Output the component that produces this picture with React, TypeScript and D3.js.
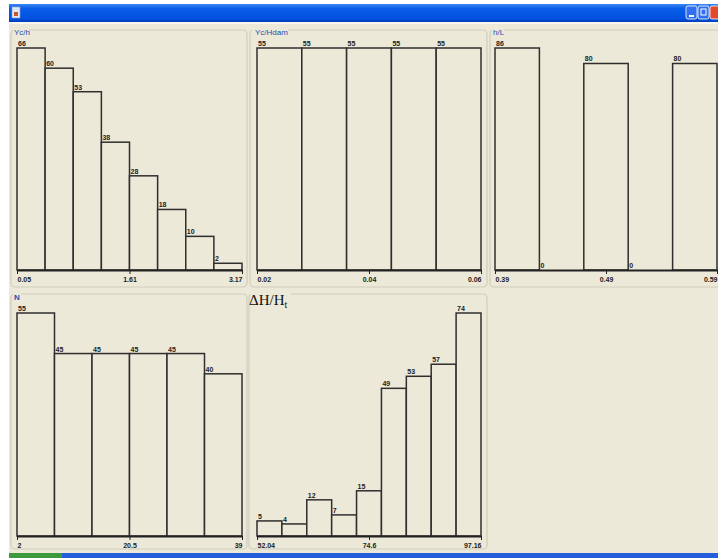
import React, { useEffect, useRef } from 'react';
import * as d3 from 'd3';

const width = 718;
const height = 558;
const bg = '#ECE9D8';
const barStroke = '#2f2f2f';
const titleBlue = '#1f4fb4';

// bin counts per histogram
const ycHCounts = [66, 60, 53, 38, 28, 18, 10, 2];
const ycHdamCounts = [55, 55, 55, 55, 55];
const hLCounts = [86, 0, 80, 0, 80];
const nCounts = [55, 45, 45, 45, 45, 40];
const dHCounts = [5, 4, 12, 7, 15, 49, 53, 57, 74];

// axis tick labels (min, mid, max)
const ycHTicks = [0.05, 1.61, 3.17];
const ycHdamTicks = [0.02, 0.04, 0.06];
const hLTicks = [0.39, 0.49, 0.59];
const nTicks = [2, 20.5, 39];
const dHTicks = [52.04, 74.6, 97.16];

type HistProps = {
  counts: number[];
  ticks: number[];
  x0: number;
  x1: number;
  top: number;
  base: number;
};

function Histogram({ counts, ticks, x0, x1, top, base }: HistProps) {
  const axisRef = useRef<SVGGElement>(null);
  const xIdx = d3.scaleLinear().domain([0, counts.length]).range([x0, x1]);
  const y = d3.scaleLinear().domain([0, d3.max(counts) as number]).range([base, top]);
  const xVal = d3.scaleLinear().domain([ticks[0], ticks[ticks.length - 1]]).range([x0, x1]);

  useEffect(() => {
    const axis = d3.axisBottom(xVal).tickValues(ticks).tickSize(4).tickSizeOuter(0).tickPadding(3)
      .tickFormat(d => String(d));
    const g = d3.select(axisRef.current).call(axis as any);
    g.select('.domain').attr('stroke', '#222').attr('stroke-width', 2);
    g.selectAll('.tick line').attr('stroke', '#222').attr('stroke-width', 1);
    const last = ticks.length - 1;
    g.selectAll('.tick text')
      .attr('fill', '#222')
      .attr('font-size', 7)
      .attr('font-weight', 'bold')
      .attr('font-family', 'Liberation Sans, Arial, sans-serif')
      .attr('text-anchor', (_d, i) => (i === 0 ? 'start' : i === last ? 'end' : 'middle'));
  });

  return (
    <g>
      {counts.map((c, i) => (
        <g key={i}>
          <rect x={xIdx(i)} y={y(c)} width={xIdx(i + 1) - xIdx(i)} height={base - y(c)}
            fill={bg} stroke={barStroke} strokeWidth={1.5} />
          <text x={xIdx(i) + 1} y={y(c) - 2} fontSize={7} fontWeight="bold" fill="#222"
            fontFamily="Liberation Sans, Arial, sans-serif">{c}</text>
        </g>
      ))}
      <g ref={axisRef} transform={`translate(0, ${base})`} />
    </g>
  );
}

function Frame({ x, y, w, h, gap }: { x: number; y: number; w: number; h: number; gap: number }) {
  return (
    <g>
      <rect x={x} y={y} width={w} height={h} rx={4} fill="none" stroke="#D0CDBB" strokeWidth={1.2} />
      <rect x={x + 2} y={y - 3} width={gap} height={6} fill={bg} />
    </g>
  );
}

export default function App() {
  return (
    <svg width={width} height={height} style={{ position: 'absolute', left: 0, top: 0 }}>
      <defs>
        <linearGradient id="tb" x1="0" y1="0" x2="0" y2="1">
          <stop offset="0" stopColor="#3b86f2" />
          <stop offset="0.25" stopColor="#0a5ee8" />
          <stop offset="0.8" stopColor="#0052e0" />
          <stop offset="1" stopColor="#003fb8" />
        </linearGradient>
      </defs>
      <rect x={0} y={0} width={width} height={height} fill="#fff" />
      <rect x={9} y={4} width={width - 9} height={551} fill={bg} />
      {/* title bar */}
      <rect x={9} y={4} width={width - 9} height={18} fill="url(#tb)" />
      <rect x={9} y={22} width={width - 9} height={2} fill="#f7f6ef" />
      <rect x={12} y={7} width={8} height={11} fill="#dfe6f5" stroke="#8aa0c8" strokeWidth={0.6} />
      <rect x={14} y={12} width={4} height={4} fill="#c85a2a" />
      <rect x={686} y={6} width={11} height={13} rx={2} fill="#2f6ff0" stroke="#fff" strokeWidth={0.8} />
      <rect x={689} y={15} width={5} height={2} fill="#fff" />
      <rect x={698} y={6} width={11} height={13} rx={2} fill="#2f6ff0" stroke="#fff" strokeWidth={0.8} />
      <rect x={701} y={9} width={5} height={6} fill="none" stroke="#fff" strokeWidth={1} />
      <rect x={710} y={6} width={11} height={13} rx={2} fill="#e0492a" stroke="#fff" strokeWidth={0.8} />
      {/* taskbar */}
      <rect x={9} y={553} width={width - 9} height={5} fill="#245edb" />
      <rect x={9} y={553} width={53} height={5} fill="#3c9a3c" />

      <Frame x={11} y={30} w={236} h={257} gap={16} />
      <Frame x={250} y={30} w={237} h={257} gap={36} />
      <Frame x={490} y={30} w={240} h={257} gap={12} />
      <Frame x={11} y={294} w={236} h={255} gap={8} />
      <Frame x={249} y={294} w={238} h={255} gap={40} />

      <g fontFamily="Liberation Sans, Arial, sans-serif" fontSize={8} fill={titleBlue}>
        <text x={14} y={35}>Yc/h</text>
        <text x={255} y={35}>Yc/Hdam</text>
        <text x={493} y={35}>h/L</text>
        <text x={14} y={300} fontWeight="bold">N</text>
      </g>
      <text x={249} y={305} fontFamily="Liberation Serif, Times New Roman, serif" fontSize={15} fill="#111">
        ΔH/H<tspan fontSize={10} dy={3}>t</tspan>
      </text>

      <Histogram counts={ycHCounts} ticks={ycHTicks} x0={17} x1={242} top={48} base={270} />
      <Histogram counts={ycHdamCounts} ticks={ycHdamTicks} x0={257} x1={481} top={48} base={270} />
      <Histogram counts={hLCounts} ticks={hLTicks} x0={495} x1={717} top={48} base={270} />
      <Histogram counts={nCounts} ticks={nTicks} x0={17} x1={242} top={313} base={536} />
      <Histogram counts={dHCounts} ticks={dHTicks} x0={257} x1={481} top={313} base={536} />
    </svg>
  );
}
